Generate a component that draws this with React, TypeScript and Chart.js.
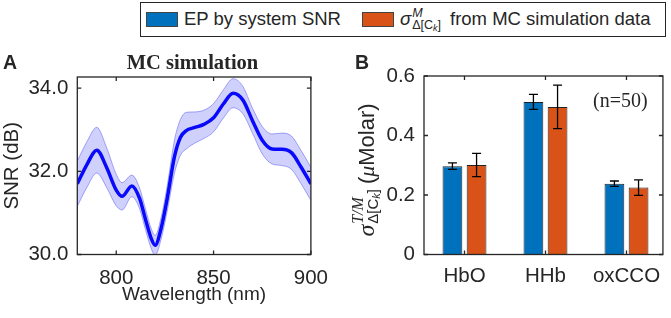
import React, { useEffect, useRef } from "react";
import { Chart, registerables } from "chart.js";

Chart.register(...registerables);

// ---------- Panel A data ----------
const wavelengths = [780, 785, 790, 795, 800, 803, 808, 812, 815, 818, 820, 823, 826, 830, 833, 836, 840, 845, 850, 855, 860, 865, 870, 875, 880, 885, 890, 895, 900];
const snrMean = [31.70, 32.17, 32.51, 32.10, 31.55, 31.40, 31.65, 31.35, 30.85, 30.38, 30.22, 30.62, 31.30, 32.37, 32.82, 32.98, 33.05, 33.13, 33.29, 33.62, 33.88, 33.72, 33.22, 32.75, 32.54, 32.53, 32.45, 32.10, 31.70];
const snrUpper = [32.25, 32.72, 33.06, 32.58, 31.93, 31.73, 31.91, 31.60, 31.10, 30.62, 30.46, 30.88, 31.60, 32.77, 33.25, 33.42, 33.43, 33.47, 33.63, 33.96, 34.23, 34.05, 33.52, 33.08, 32.90, 32.92, 32.85, 32.50, 32.10];
const snrLower = [31.16, 31.62, 31.96, 31.62, 31.17, 31.07, 31.39, 31.10, 30.60, 30.14, 29.98, 30.36, 31.00, 31.97, 32.39, 32.54, 32.67, 32.79, 32.95, 33.28, 33.53, 33.39, 32.92, 32.42, 32.18, 32.14, 32.05, 31.70, 31.30];
const xTicksA = [800, 850, 900];
const yTicksA = [30, 32, 34];

// ---------- Panel B data ----------
const categories = ["HbO", "HHb", "oxCCO"];
const epValues = [0.297, 0.513, 0.238];
const epErrors = [0.011, 0.025, 0.009];
const mcValues = [0.301, 0.496, 0.225];
const mcErrors = [0.039, 0.073, 0.026];
const yTicksB = [0, 0.2, 0.4, 0.6];

const TEXT = "#262626";
const SANS = "'Liberation Sans', Arial, sans-serif";
const SERIF = "'Liberation Serif', 'Times New Roman', serif";

Chart.defaults.font.family = SANS;
Chart.defaults.color = TEXT;

const boxPlugin = {
  id: "boxTicks",
  afterDraw(chart: any) {
    const { ctx, chartArea: a, scales } = chart;
    ctx.save();
    ctx.strokeStyle = TEXT;
    ctx.lineWidth = 1.3;
    ctx.strokeRect(a.left, a.top, a.right - a.left, a.bottom - a.top);
    const L = 4;
    ctx.beginPath();
    scales.x.ticks.forEach((t: any) => {
      const px = scales.x.getPixelForValue(t.value);
      ctx.moveTo(px, a.bottom);
      ctx.lineTo(px, a.bottom - L);
      ctx.moveTo(px, a.top);
      ctx.lineTo(px, a.top + L);
    });
    scales.y.ticks.forEach((t: any) => {
      const py = scales.y.getPixelForValue(t.value);
      ctx.moveTo(a.left, py);
      ctx.lineTo(a.left + L, py);
      ctx.moveTo(a.right, py);
      ctx.lineTo(a.right - L, py);
    });
    ctx.stroke();
    ctx.restore();
  },
};

const errorBarPlugin = {
  id: "errorBars",
  afterDatasetsDraw(chart: any) {
    const { ctx, scales } = chart;
    const y = scales.y;
    ctx.save();
    ctx.strokeStyle = "#000";
    ctx.lineWidth = 1.3;
    chart.data.datasets.forEach((ds: any, di: number) => {
      const meta = chart.getDatasetMeta(di);
      meta.data.forEach((bar: any, i: number) => {
        const v = ds.data[i].y;
        const e = ds.errors[i];
        const top = y.getPixelForValue(v + e);
        const bot = y.getPixelForValue(v - e);
        const c = 4.5;
        ctx.beginPath();
        ctx.moveTo(bar.x, top);
        ctx.lineTo(bar.x, bot);
        ctx.moveTo(bar.x - c, top);
        ctx.lineTo(bar.x + c, top);
        ctx.moveTo(bar.x - c, bot);
        ctx.lineTo(bar.x + c, bot);
        ctx.stroke();
      });
    });
    ctx.restore();
  },
};

// rotated y-axis title of panel B: σ^{T/M}_{Δ[C_k]} (μMolar)
const yTitleBPlugin = {
  id: "yTitleB",
  afterDraw(chart: any) {
    const ctx = chart.ctx;
    const baselineX = 34; // canvas coords (page x 374)
    const centerY = 170;
    const fSigma = `italic 24px ${SERIF}`;
    const fSup = `italic 16px ${SERIF}`;
    const fSub = `15px ${SANS}`;
    const fSubK = `italic 11px ${SANS}`;
    const fMain = `22px ${SANS}`;
    const fMu = `italic 22px ${SERIF}`;
    const w = (t: string, f: string) => { ctx.font = f; return ctx.measureText(t).width; };
    const wS = w("σ", fSigma);
    const wSup = w("T/M", fSup);
    const wSub = w("Δ[C", fSub) + w("k", fSubK) + w("]", fSub);
    const wScr = Math.max(wSup, wSub);
    const gap = 5;
    const wMain = w("(", fMain) + w("μ", fMu) + w("Molar)", fMain);
    const total = wS + 1 + wScr + gap + wMain;
    ctx.save();
    ctx.fillStyle = TEXT;
    ctx.textBaseline = "alphabetic";
    ctx.textAlign = "left";
    ctx.translate(baselineX, centerY);
    ctx.rotate(-Math.PI / 2);
    let x = -total / 2;
    ctx.font = fSigma; ctx.fillText("σ", x, 0);
    x += wS + 1;
    ctx.font = fSup; ctx.fillText("T/M", x, -11);
    let sx = x;
    ctx.font = fSub; ctx.fillText("Δ[C", sx, 4); sx += w("Δ[C", fSub);
    ctx.font = fSubK; ctx.fillText("k", sx, 6); sx += w("k", fSubK);
    ctx.font = fSub; ctx.fillText("]", sx, 4);
    x += wScr + gap;
    ctx.font = fMain; ctx.fillText("(", x, 0); x += w("(", fMain);
    ctx.font = fMu; ctx.fillText("μ", x, 0); x += w("μ", fMu);
    ctx.font = fMain; ctx.fillText("Molar)", x, 0);
    ctx.restore();
  },
};

function ChartA() {
  const ref = useRef<HTMLCanvasElement>(null);
  useEffect(() => {
    const bandFill = "rgba(40,40,240,0.22)";
    const bandEdge = "rgba(40,40,240,0.38)";
    const common = { pointRadius: 0, cubicInterpolationMode: "monotone" };
    const chart = new Chart(ref.current as HTMLCanvasElement, {
      type: "line",
      data: {
        datasets: [
          { ...common, data: wavelengths.map((x, i) => ({ x, y: snrUpper[i] })), borderColor: bandEdge, borderWidth: 1, backgroundColor: bandFill, fill: "+1" },
          { ...common, data: wavelengths.map((x, i) => ({ x, y: snrLower[i] })), borderColor: bandEdge, borderWidth: 1, fill: false },
          { ...common, data: wavelengths.map((x, i) => ({ x, y: snrMean[i] })), borderColor: "#0000ff", borderWidth: 3.5, fill: false },
        ],
      } as any,
      options: {
        responsive: false,
        animation: false,
        layout: { padding: { left: 0, top: 77, right: 19, bottom: 0 } },
        plugins: { legend: { display: false }, tooltip: { enabled: false }, title: { display: false } },
        scales: {
          x: {
            type: "linear",
            min: 780,
            max: 900,
            afterBuildTicks: (s: any) => { s.ticks = xTicksA.map((v) => ({ value: v })); },
            afterFit: (s: any) => { s.height = 63.5; },
            grid: { display: false, drawTicks: false },
            border: { display: false },
            ticks: { padding: 12, maxRotation: 0, font: { size: 20.5 }, color: TEXT, callback: (v: any) => String(v) },
            title: { display: true, text: "Wavelength (nm)", font: { size: 19 }, color: TEXT, padding: { top: 0, bottom: 11.5 } },
          },
          y: {
            type: "linear",
            min: 30,
            max: 34.27,
            afterBuildTicks: (s: any) => { s.ticks = yTicksA.map((v) => ({ value: v })); },
            afterFit: (s: any) => { s.width = 77.3; },
            grid: { display: false, drawTicks: false },
            border: { display: false },
            ticks: { padding: 9, font: { size: 20.5 }, color: TEXT, callback: (v: any) => Number(v).toFixed(1) },
            title: { display: true, text: "SNR (dB)", font: { size: 20.5 }, color: TEXT, padding: { top: 0, bottom: 0 } },
          },
        },
      } as any,
      plugins: [boxPlugin],
    });
    return () => chart.destroy();
  }, []);
  return <canvas ref={ref} width={340} height={318} style={{ position: "absolute", left: 0, top: 0 }} />;
}

function ChartB() {
  const ref = useRef<HTMLCanvasElement>(null);
  useEffect(() => {
    const chart = new Chart(ref.current as HTMLCanvasElement, {
      type: "bar",
      data: {
        datasets: [
          {
            label: "EP by system SNR",
            data: categories.map((c, i) => ({ x: i + 1, y: epValues[i] })),
            errors: epErrors,
            backgroundColor: "#0072BD",
            borderColor: "#222",
            borderWidth: 1,
            categoryPercentage: 0.596,
            barPercentage: 0.82,
          },
          {
            label: "MC simulation data",
            data: categories.map((c, i) => ({ x: i + 1, y: mcValues[i] })),
            errors: mcErrors,
            backgroundColor: "#D95319",
            borderColor: "#222",
            borderWidth: 1,
            categoryPercentage: 0.596,
            barPercentage: 0.82,
          },
        ],
      } as any,
      options: {
        responsive: false,
        animation: false,
        layout: { padding: { left: 0, top: 76, right: 6, bottom: 0 } },
        plugins: { legend: { display: false }, tooltip: { enabled: false }, title: { display: false } },
        scales: {
          x: {
            type: "linear",
            offset: false,
            min: 0.5,
            max: 3.45,
            afterBuildTicks: (s: any) => { s.ticks = categories.map((c, i) => ({ value: i + 1 })); },
            afterFit: (s: any) => { s.height = 63.5; },
            grid: { display: false, drawTicks: false },
            border: { display: false },
            ticks: { padding: 10, maxRotation: 0, font: { size: 20.5 }, color: TEXT, callback: (v: any) => categories[Math.round(Number(v)) - 1] ?? "" },
          },
          y: {
            type: "linear",
            min: 0,
            max: 0.6,
            afterBuildTicks: (s: any) => { s.ticks = yTicksB.map((v) => ({ value: v })); },
            afterFit: (s: any) => { s.width = 84; },
            grid: { display: false, drawTicks: false },
            border: { display: false },
            ticks: { padding: 9, font: { size: 20.5 }, color: TEXT, callback: (v: any) => (Number(v) === 0 ? "0" : Number(v).toFixed(1)) },
          },
        },
      } as any,
      plugins: [errorBarPlugin, boxPlugin, yTitleBPlugin],
    });
    return () => chart.destroy();
  }, []);
  return <canvas ref={ref} width={331} height={318} style={{ position: "absolute", left: 340, top: 0 }} />;
}

function SigmaScripts({ sup, size }: { sup: string; size: number }) {
  return (
    <span style={{ display: "inline-flex", flexDirection: "column", lineHeight: 1, fontSize: size, marginLeft: 1 }}>
      <span style={{ fontStyle: "italic" }}>{sup}</span>
      <span>
        Δ[C<span style={{ fontStyle: "italic", fontSize: size * 0.72, position: "relative", top: 2 }}>k</span>]
      </span>
    </span>
  );
}

export default function App() {
  return (
    <div style={{ position: "absolute", left: 0, top: 0, width: 671, height: 318, background: "#fff", overflow: "hidden", fontFamily: SANS, color: TEXT }}>
      <ChartA />
      <ChartB />

      {/* panel letters and titles */}
      <div style={{ position: "absolute", left: 3, top: 52.5, fontSize: 19.5, fontWeight: "bold", lineHeight: 1 }}>A</div>
      <div style={{ position: "absolute", left: 355, top: 52.5, fontSize: 19.5, fontWeight: "bold", lineHeight: 1 }}>B</div>
      <div style={{ position: "absolute", left: 192.5, top: 52.1, transform: "translateX(-50%)", fontFamily: SERIF, fontWeight: "bold", fontSize: 20.5, lineHeight: 1, whiteSpace: "nowrap" }}>MC simulation</div>
      <div style={{ position: "absolute", left: 593, top: 90.3, fontFamily: SERIF, fontSize: 20, lineHeight: 1, whiteSpace: "nowrap" }}>(n=50)</div>

      {/* legend */}
      <div style={{ position: "absolute", left: 140, top: 2, width: 526, height: 34.5, boxSizing: "border-box", border: "1.2px solid #262626", background: "#fff", fontSize: 18.5 }}>
        <div style={{ position: "absolute", left: 5, top: 8.5, width: 32, height: 15, boxSizing: "border-box", background: "#0072BD", border: "1px solid #444" }} />
        <div style={{ position: "absolute", left: 43, top: 0, bottom: 0, display: "flex", alignItems: "center", whiteSpace: "nowrap" }}>EP by system SNR</div>
        <div style={{ position: "absolute", left: 220.7, top: 8.5, width: 32, height: 15, boxSizing: "border-box", background: "#D95319", border: "1px solid #444" }} />
        <div style={{ position: "absolute", left: 259, top: 0, bottom: 0, display: "flex", alignItems: "center", whiteSpace: "nowrap" }}>
          <span style={{ fontStyle: "italic" }}>σ</span>
          <SigmaScripts sup="M" size={12.5} />
        </div>
        <div style={{ position: "absolute", left: 309, top: 0, bottom: 0, display: "flex", alignItems: "center", whiteSpace: "nowrap" }}>from MC simulation data</div>
      </div>
    </div>
  );
}
